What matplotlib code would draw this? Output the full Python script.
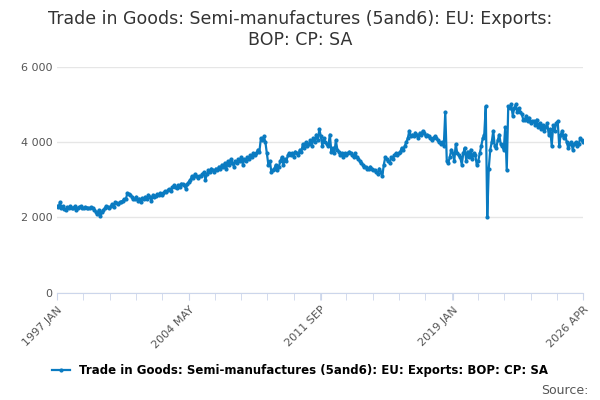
import numpy as np
import pandas as pd
import matplotlib
matplotlib.use("Agg")
import matplotlib.pyplot as plt

title = "Trade in Goods: Semi-manufactures (5and6): EU: Exports:\nBOP: CP: SA"
series_name = "Trade in Goods: Semi-manufactures (5and6): EU: Exports: BOP: CP: SA"

# monthly values, Jan 1997 .. Apr 2026 (GBP m)
values = [
    2300, 2280, 2400, 2250, 2300, 2220, 2200, 2280, 2250, 2300, 2250, 2260,
    2300, 2200, 2250, 2280, 2300, 2250, 2250, 2280, 2260, 2240, 2250, 2270,
    2250, 2200, 2150, 2100, 2200, 2050, 2150, 2200, 2250, 2300, 2280, 2250,
    2300, 2350, 2280, 2400, 2380, 2350, 2400, 2420, 2450, 2480, 2500, 2650,
    2620, 2600, 2550, 2500, 2480, 2550, 2450, 2500, 2400, 2520, 2480, 2550,
    2500, 2600, 2550, 2450, 2600, 2550, 2580, 2620, 2600, 2650, 2600, 2650,
    2700, 2680, 2720, 2750, 2700, 2800, 2850, 2820, 2780, 2850, 2800, 2900,
    2880, 2850, 2750, 2900, 2950, 3000, 3100, 3050, 3150, 3100, 3050, 3100,
    3100, 3150, 3200, 3000, 3150, 3250, 3200, 3300, 3250, 3200, 3300, 3250,
    3350, 3300, 3400, 3350, 3450, 3300, 3500, 3400, 3550, 3450, 3350, 3500,
    3450, 3550, 3500, 3600, 3400, 3550, 3500, 3600, 3550, 3650, 3600, 3700,
    3650, 3700, 3800, 3750, 4100, 4050, 4150, 4000, 3700, 3400, 3500, 3200,
    3250, 3300, 3400, 3250, 3350, 3500, 3600, 3400, 3550, 3500, 3650, 3700,
    3650, 3700, 3600, 3750, 3700, 3650, 3800, 3750, 3950, 3850, 4000, 3900,
    3950, 4050, 3900, 4100, 4000, 4200, 4050, 4350, 4150, 3900, 4100, 4000,
    3950, 3900, 4200, 3750, 3850, 3700, 4050, 3800, 3750, 3650, 3700, 3600,
    3700, 3650, 3700, 3750, 3700, 3650, 3600, 3700, 3600, 3550, 3500, 3450,
    3400, 3350, 3350, 3300, 3300, 3350, 3300, 3250, 3250, 3200, 3150, 3300,
    3200, 3100, 3400, 3600, 3550, 3500, 3450, 3600, 3550, 3650, 3700, 3650,
    3700, 3750, 3850, 3800, 3900, 4000, 4100, 4300, 4150, 4200, 4150, 4250,
    4200, 4100, 4250, 4200, 4300, 4250, 4150, 4200, 4150, 4100, 4050, 4100,
    4150, 4100, 4050, 4000, 3950, 4000, 3900, 4800, 3500, 3450, 3600, 3800,
    3700, 3500, 3950, 3700, 3650, 3600, 3400, 3700, 3850, 3500, 3750, 3600,
    3800, 3550, 3700, 3650, 3400, 3500, 3700, 3900, 4100, 4200, 4950, 2000,
    3300, 3800, 4000, 4300, 3900, 3850, 4050, 4200, 3950, 3900, 3800, 4400,
    3250, 4950, 4900, 5000, 4700, 4900, 5000, 4800, 4900, 4800, 4750, 4600,
    4600, 4700, 4550, 4650, 4500, 4550, 4550, 4450, 4600, 4400, 4500, 4350,
    4450, 4300, 4400, 4500, 4200, 4350, 3900, 4450, 4300, 4500, 4550, 3900,
    4200, 4300, 4100, 4200, 4000, 3850, 3950, 4000, 3800, 3950, 4000, 3900,
    3950, 4100, 4050, 4000,
]
tick_labels = ["1997 JAN", "2004 MAY", "2011 SEP", "2019 JAN", "2026 APR"]
y_ticks = [0, 2000, 4000, 6000]

months = pd.date_range("1997-01-01", periods=len(values), freq="MS")
x = np.arange(len(values))
label_idx = [list(months.strftime("%Y %b").str.upper()).index(t) for t in tick_labels]

color = "#0a7bc1"
fig = plt.figure(figsize=(6, 4), dpi=100)
ax = fig.add_axes([0.095, 0.268, 0.877, 0.565])
ax.plot(x, values, color=color, lw=1.6, marker="o", ms=2)
ax.set_xlim(0, len(values) - 1)
ax.set_ylim(0, 6000)
ax.set_yticks(y_ticks)
ax.set_yticklabels([f"{v:,}".replace(",", " ") for v in y_ticks], fontsize=8, color="#555555")
ax.set_xticks(label_idx)
ax.set_xticklabels(tick_labels, rotation=45, ha="right", rotation_mode="anchor", fontsize=8, color="#555555")
ax.set_xticks(np.linspace(0, len(values) - 1, 21), minor=True)
ax.tick_params(axis="y", length=0)
ax.tick_params(axis="x", which="both", length=5, color="#ccd6eb")
ax.grid(axis="y", color="#e6e6e6", lw=1)
for s in ["top", "right", "left"]:
    ax.spines[s].set_visible(False)
ax.spines["bottom"].set_color("#ccd6eb")

fig.suptitle(title, fontsize=12.5, color="#333333", y=0.975)
ax.plot([], [], color=color, lw=1.6, marker="o", ms=2, label=series_name)
handles, labels = ax.get_legend_handles_labels()
fig.legend(handles[-1:], labels[-1:], loc="lower center", bbox_to_anchor=(0.5, 0.03), frameon=False,
           prop={"weight": "bold", "size": 8.5}, handlelength=1.5)
fig.text(0.98, 0.015, "Source:", ha="right", fontsize=9, color="#555555")
fig.savefig("out.png", dpi=100)
